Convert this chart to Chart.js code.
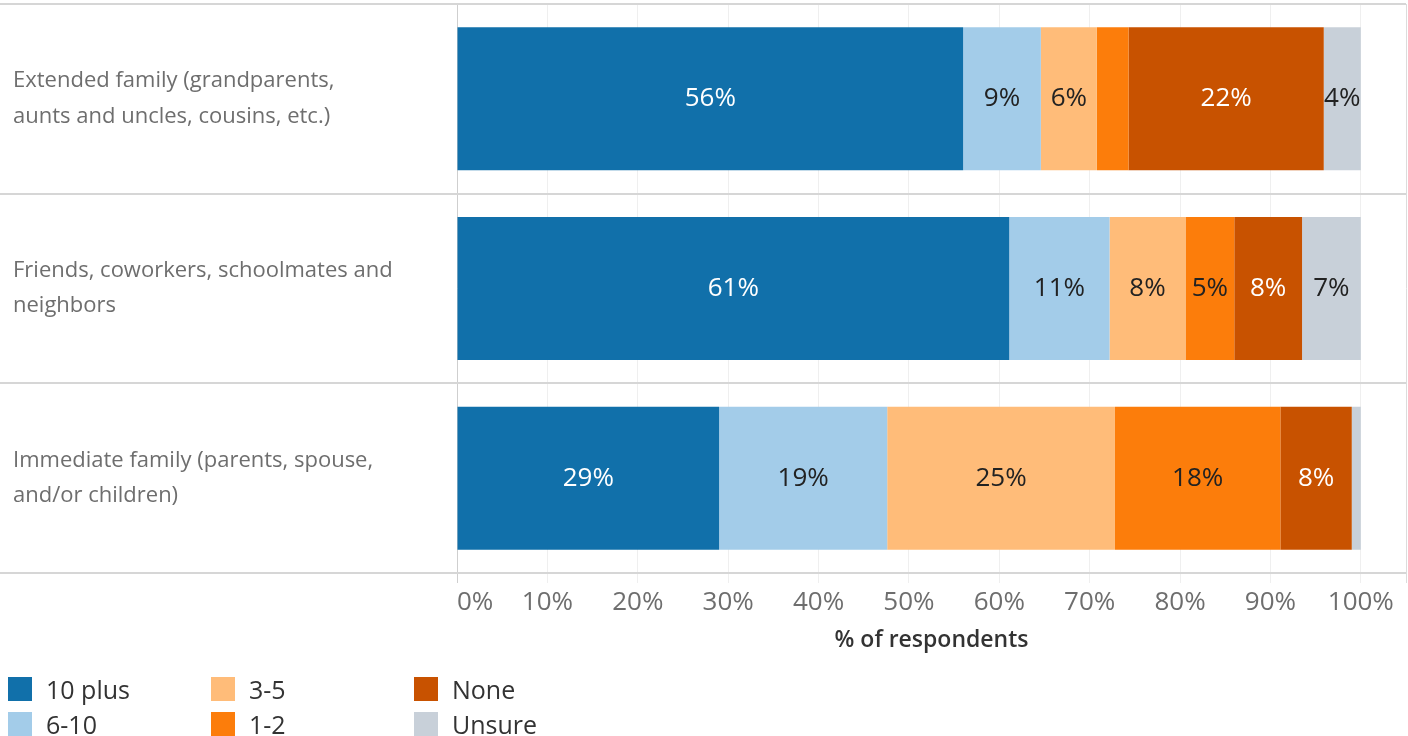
<!DOCTYPE html>
<html>
<head>
<meta charset="utf-8">
<script src="https://cdn.jsdelivr.net/npm/chart.js@4"></script>
<style>
  body { margin: 0; background: #fff; }
  #wrap { position: relative; width: 1408px; height: 736px; overflow: hidden; }
  #legend {
    position: absolute; left: 8px; top: 677px;
    display: grid; grid-auto-flow: column;
    grid-template-rows: 24px 24px; grid-template-columns: 203px 203px 203px;
    row-gap: 11px;
    font-family: "Open Sans", sans-serif; font-size: 25px; color: #333;
  }
  #legend .item { display: flex; align-items: center; white-space: nowrap; }
  #legend .box { width: 24px; height: 24px; margin-right: 14px; flex: none; }
</style>
</head>
<body>
<div id="wrap">
  <canvas id="chart" width="1408" height="736"></canvas>
  <div id="legend"></div>
</div>
<script>
// who people talk to - stacked share of respondents

const categories = [
  ["Extended family (grandparents,", "aunts and uncles, cousins, etc.)"],
  ["Friends, coworkers, schoolmates and", "neighbors"],
  ["Immediate family (parents, spouse,", "and/or children)"]
];
const seriesNames = ["10 plus", "6-10", "3-5", "1-2", "None", "Unsure"];
const tenPlus = [56.0, 61.1, 29.0];
const sixToTen = [8.6, 11.1, 18.6];
const threeToFive = [6.2, 8.4, 25.2];
const oneToTwo = [3.5, 5.4, 18.3];
const none = [21.6, 7.5, 7.9];
const unsure = [4.1, 6.5, 1.0];
const tickValues = [0, 10, 20, 30, 40, 50, 60, 70, 80, 90, 100];

const colors = ["#1170aa", "#a3cce9", "#ffbc79", "#fc7d0b", "#c85200", "#c8d0d9"];
const labelColors = ["#ffffff", "#222222", "#222222", "#222222", "#ffffff", "#222222"];
const allSeries = [tenPlus, sixToTen, threeToFive, oneToTwo, none, unsure];
const font = "'Open Sans', sans-serif";

// value labels inside the segments
const barLabels = {
  id: "barLabels",
  afterDatasetsDraw(chart) {
    const ctx = chart.ctx;
    ctx.save();
    ctx.font = "26px " + font;
    ctx.textAlign = "center";
    ctx.textBaseline = "middle";
    chart.data.datasets.forEach((ds, di) => {
      chart.getDatasetMeta(di).data.forEach((bar, i) => {
        const v = ds.data[i];
        if (v < 4) return;
        ctx.fillStyle = labelColors[di];
        ctx.fillText(Math.round(v) + "%", (bar.x + bar.base) / 2, bar.y);
      });
    });
    ctx.restore();
  }
};

// row dividers running across the label column too
const rowLines = {
  id: "rowLines",
  afterDraw(chart) {
    const { ctx, chartArea } = chart;
    const y = chart.scales.y;
    const ys = [chartArea.top, chartArea.bottom];
    for (let i = 0; i < categories.length - 1; i++) {
      ys.push((y.getPixelForValue(i) + y.getPixelForValue(i + 1)) / 2);
    }
    ctx.save();
    ctx.strokeStyle = "#d6d6d6";
    ctx.lineWidth = 2;
    ys.forEach(py => {
      ctx.beginPath();
      ctx.moveTo(0, Math.round(py));
      ctx.lineTo(chartArea.right, Math.round(py));
      ctx.stroke();
    });
    ctx.restore();
  }
};

new Chart(document.getElementById("chart"), {
  type: "bar",
  data: {
    labels: categories,
    datasets: seriesNames.map((name, i) => ({
      label: name,
      data: allSeries[i],
      backgroundColor: colors[i],
      barPercentage: 0.754,
      categoryPercentage: 1
    }))
  },
  options: {
    indexAxis: "y",
    responsive: false,
    animation: false,
    layout: { padding: { top: 4, right: 2, left: 13, bottom: 0 } },
    plugins: { legend: { display: false }, tooltip: { enabled: false } },
    scales: {
      x: {
        stacked: true,
        min: 0,
        max: 105,
        afterBuildTicks(axis) {
          axis.ticks = tickValues.concat([105]).map(v => ({ value: v }));
        },
        afterFit(axis) {
          axis.height = 163;
          axis.paddingRight = 0;
        },
        border: { display: false },
        grid: {
          tickLength: 10,
          color: c => {
            const v = c.tick ? c.tick.value : null;
            if (v === 0) return "#cfcfcf";
            if (v > 100) return "#dcdcdc";
            return "#efefef";
          }
        },
        ticks: {
          align: "inner",
          autoSkip: false,
          maxRotation: 0,
          padding: 4,
          color: "#6e6e6e",
          font: { family: font, size: 26 },
          callback: v => (v > 100 ? "" : v + "%")
        },
        title: {
          display: true,
          text: "% of respondents",
          color: "#333",
          font: { family: font, size: 23, weight: "600" },
          padding: { top: 0, bottom: 82 }
        }
      },
      y: {
        stacked: true,
        afterFit(axis) {
          axis.width = 444;
          axis.paddingTop = 0;
          axis.paddingBottom = 0;
        },
        border: { display: false },
        grid: { display: false },
        ticks: {
          crossAlign: "far",
          color: "#6e6e6e",
          font: { family: font, size: 22, lineHeight: 1.6 }
        }
      }
    }
  },
  plugins: [barLabels, rowLines]
});

const legend = document.getElementById("legend");
seriesNames.forEach((name, i) => {
  const item = document.createElement("div");
  item.className = "item";
  item.innerHTML = '<span class="box" style="background:' + colors[i] + '"></span><span>' + name + "</span>";
  legend.appendChild(item);
});
</script>
</body>
</html>
